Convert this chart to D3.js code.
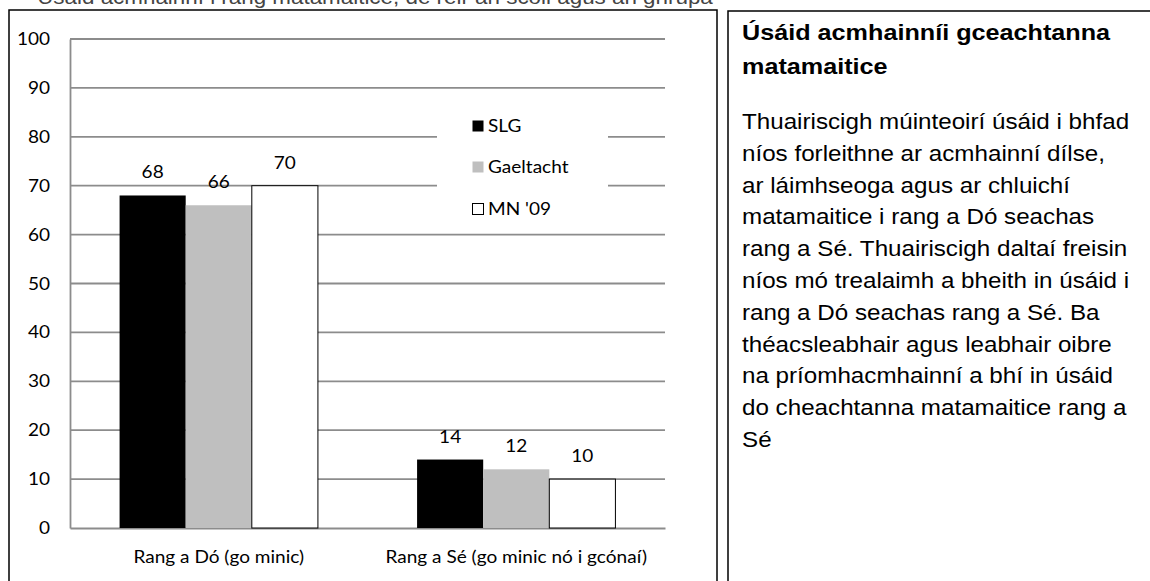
<!doctype html>
<html>
<head>
<meta charset="utf-8">
<script src="https://cdn.jsdelivr.net/npm/d3@7"></script>
<style>
  body { margin: 0; background: #fff; }
  svg { display: block; }
</style>
</head>
<body>
<script>
// chart data
var categories = ["Rang a Dó (go minic)", "Rang a Sé (go minic nó i gcónaí)"];
var seriesNames = ["SLG", "Gaeltacht", "MN '09"];
var slg = [68, 14];
var gaeltacht = [66, 12];
var mn09 = [70, 10];
var yTicks = [0, 10, 20, 30, 40, 50, 60, 70, 80, 90, 100];

// side panel text
var topCaption = "Úsáid acmhainní i rang matamaitice, de réir an scoil agus an ghrúpa";
var panelTitle = ["Úsáid acmhainníi gceachtanna", "matamaitice"];
var panelBody = [
  "Thuairiscigh múinteoirí úsáid i bhfad",
  "níos forleithne ar acmhainní dílse,",
  "ar láimhseoga agus ar chluichí",
  "matamaitice i rang a Dó seachas",
  "rang a Sé. Thuairiscigh daltaí freisin",
  "níos mó trealaimh a bheith in úsáid i",
  "rang a Dó seachas rang a Sé. Ba",
  "théacsleabhair agus leabhair oibre",
  "na príomhacmhainní a bhí in úsáid",
  "do cheachtanna matamaitice rang a",
  "Sé"
];

var values = [slg, gaeltacht, mn09];
var fills = ["#000000", "#bfbfbf", "#ffffff"];
var chartFont = "Lato, 'Open Sans', sans-serif";
var textFont = "'Liberation Sans', Arial, sans-serif";
var kx = 1.12; // the source picture is a little wider than tall

var svg = d3.select("body").append("svg")
    .attr("width", 1150)
    .attr("height", 581);

// text helper, stretched horizontally like the source
function label(g, x, y, txt) {
  return g.append("text")
    .attr("transform", "translate(" + x + "," + y + ") scale(" + kx + ",1)")
    .text(txt);
}

// caption cut off at top of the page
label(svg, 375, 4, topCaption)
    .attr("text-anchor", "middle")
    .attr("font-family", textFont)
    .attr("font-size", 20)
    .attr("fill", "#444");

// frames
svg.append("rect")
    .attr("x", 9).attr("y", 10)
    .attr("width", 708).attr("height", 600)
    .attr("fill", "none").attr("stroke", "#000").attr("stroke-width", 1.5);
svg.append("rect")
    .attr("x", 728).attr("y", 11)
    .attr("width", 500).attr("height", 600)
    .attr("fill", "none").attr("stroke", "#000").attr("stroke-width", 1.5);

// scales
var x0 = d3.scaleBand().domain(categories).range([70, 665]);
var x1 = d3.scaleBand().domain(seriesNames).range([0, x0.bandwidth()])
    .paddingInner(0).paddingOuter(0.75);
var y = d3.scaleLinear().domain([0, 100]).range([528, 39]);

var chart = svg.append("g");

// gridlines
chart.selectAll(".grid")
    .data(yTicks.filter(function(d) { return d > 0; }))
  .enter().append("line")
    .attr("x1", 70).attr("x2", 665)
    .attr("y1", function(d) { return y(d); })
    .attr("y2", function(d) { return y(d); })
    .attr("stroke", "#8c8c8c").attr("stroke-width", 1.8);

// y axis
var yAxis = chart.append("g")
    .attr("transform", "translate(70,0)")
    .call(d3.axisLeft(y).tickValues(yTicks).tickSize(0).tickPadding(20));
yAxis.select(".domain").attr("stroke", "#8c8c8c").attr("stroke-width", 1.8);
yAxis.selectAll(".tick text").remove();
yTicks.forEach(function(t) {
  label(chart, 50, y(t) + 6, t)
      .attr("text-anchor", "end")
      .attr("font-family", chartFont)
      .attr("font-size", 17)
      .attr("fill", "#000");
});

// x axis
var xAxis = chart.append("g")
    .attr("transform", "translate(0,528)")
    .call(d3.axisBottom(x0).tickSize(0));
xAxis.select(".domain").attr("stroke", "#8c8c8c").attr("stroke-width", 1.8);
xAxis.selectAll(".tick text").remove();
categories.forEach(function(c) {
  label(chart, x0(c) + x0.bandwidth() / 2, 563, c)
      .attr("text-anchor", "middle")
      .attr("font-family", chartFont)
      .attr("font-size", 17)
      .attr("fill", "#000");
});

// legend backdrop hides the gridlines behind it
chart.append("rect")
    .attr("x", 437).attr("y", 103)
    .attr("width", 171).attr("height", 122)
    .attr("fill", "#fff");

// bars
seriesNames.forEach(function(s, i) {
  var g = chart.append("g");
  g.selectAll("rect")
      .data(values[i])
    .enter().append("rect")
      .attr("x", function(d, j) { return x0(categories[j]) + x1(s); })
      .attr("y", function(d) { return y(d); })
      .attr("width", x1.bandwidth())
      .attr("height", function(d) { return y(0) - y(d); })
      .attr("fill", fills[i])
      .attr("stroke", i == 2 ? "#000" : "none")
      .attr("stroke-width", 1);
  values[i].forEach(function(v, j) {
    label(g, x0(categories[j]) + x1(s) + x1.bandwidth() / 2, y(v) - 17, v)
        .attr("text-anchor", "middle")
        .attr("font-family", chartFont)
        .attr("font-size", 17)
        .attr("fill", "#000");
  });
});

// legend
var legendY = [126, 167, 209];
seriesNames.forEach(function(s, i) {
  chart.append("rect")
      .attr("x", 472.5).attr("y", legendY[i] - 5.5)
      .attr("width", 11).attr("height", 11)
      .attr("fill", fills[i])
      .attr("stroke", i == 2 ? "#000" : "none");
  label(chart, 488, legendY[i] + 6, s)
      .attr("font-family", chartFont)
      .attr("font-size", 17)
      .attr("fill", "#000");
});

// side panel
panelTitle.forEach(function(t, i) {
  label(svg, 742, 40 + i * 34, t)
      .attr("font-family", textFont)
      .attr("font-size", 22.5)
      .attr("font-weight", "bold")
      .attr("fill", "#000");
});
panelBody.forEach(function(t, i) {
  label(svg, 742, 129 + i * 31.8, t)
      .attr("font-family", textFont)
      .attr("font-size", 21.6)
      .attr("fill", "#000");
});
</script>
</body>
</html>
